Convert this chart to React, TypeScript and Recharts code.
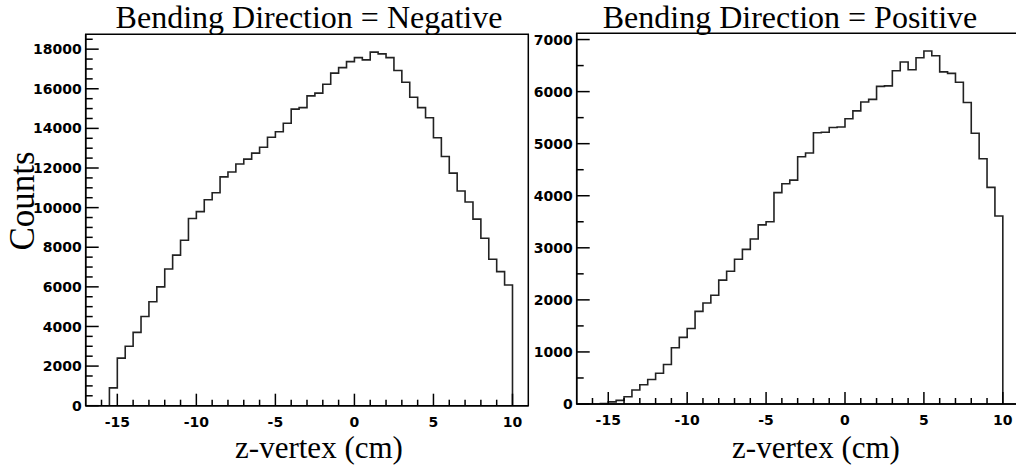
import React from 'react';
import { LineChart, Line, XAxis, YAxis, ReferenceArea, Customized } from 'recharts';

// bin edges (cm), 0.5 cm bins
const BIN_EDGES = [
  -15.5, -15, -14.5, -14, -13.5, -13, -12.5, -12, -11.5, -11, -10.5, -10, -9.5, -9, -8.5, -8, -7.5,
  -7, -6.5, -6, -5.5, -5, -4.5, -4, -3.5, -3, -2.5, -2, -1.5, -1, -0.5, 0, 0.5, 1, 1.5, 2, 2.5, 3,
  3.5, 4, 4.5, 5, 5.5, 6, 6.5, 7, 7.5, 8, 8.5, 9, 9.5, 10,
];

const NEGATIVE_COUNTS = [
  900, 2400, 3000, 3700, 4500, 5250, 6000, 6900, 7600, 8350, 9450, 9800, 10400, 10750, 11550, 11800,
  12200, 12450, 12750, 13050, 13550, 13830, 14260, 14970, 15050, 15640, 15780, 16230, 16790, 17070,
  17370, 17570, 17460, 17850, 17760, 17570, 16920, 16330, 15570, 15050, 14540, 13530, 12580, 11740,
  10840, 10280, 9420, 8450, 7390, 6770, 6090,
];

const POSITIVE_COUNTS = [
  10, 40, 70, 140, 270, 370, 470, 590, 760, 1080, 1280, 1450, 1780, 1940, 2090, 2380, 2550, 2780,
  2970, 3170, 3440, 3500, 4060, 4230, 4300, 4750, 4820, 5210, 5220, 5310, 5320, 5480, 5630, 5800,
  5850, 6100, 6110, 6400, 6570, 6420, 6650, 6780, 6690, 6380, 6350, 6180, 5790, 5200, 4710, 4160,
  3610,
];

const X_TICKS = [-16, -15, -14, -13, -12, -11, -10, -9, -8, -7, -6, -5, -4, -3, -2, -1, 0, 1, 2, 3, 4, 5, 6, 7, 8, 9, 10];
const X_LABELS = [-15, -10, -5, 0, 5, 10];

const NEG_Y_TICKS = [
  0, 500, 1000, 1500, 2000, 2500, 3000, 3500, 4000, 4500, 5000, 5500, 6000, 6500, 7000, 7500, 8000,
  8500, 9000, 9500, 10000, 10500, 11000, 11500, 12000, 12500, 13000, 13500, 14000, 14500, 15000,
  15500, 16000, 16500, 17000, 17500, 18000, 18500,
];
const NEG_Y_LABELS = [0, 2000, 4000, 6000, 8000, 10000, 12000, 14000, 16000, 18000];

const POS_Y_TICKS = [0, 500, 1000, 1500, 2000, 2500, 3000, 3500, 4000, 4500, 5000, 5500, 6000, 6500, 7000];
const POS_Y_LABELS = [0, 1000, 2000, 3000, 4000, 5000, 6000, 7000];

const X_TITLE = 'z-vertex (cm)';
const Y_TITLE = 'Counts';

const TICK_FONT = { fontFamily: 'DejaVu Sans', fontWeight: 'bold', fontSize: 14, fill: '#000' } as const;
const SERIF = 'Liberation Serif, Times New Roman, serif';

function buildSteps(counts: number[]) {
  const pts = [{ x: BIN_EDGES[0], y: 0 }];
  counts.forEach((c, i) => pts.push({ x: BIN_EDGES[i], y: c }));
  pts.push({ x: BIN_EDGES[BIN_EDGES.length - 1], y: 0 });
  return pts;
}

interface PanelProps {
  counts: number[];
  title: string;
  yMax: number;
  yTicks: number[];
  yLabels: number[];
  offset: number; // page x of the svg
  width: number;
  plot: { left: number; right: number; top: number; bottom: number };
  titleX: number;
  xTitleX: number;
  showYTitle?: boolean;
}

function Panel({ counts, title, yMax, yTicks, yLabels, offset, width, plot, titleX, xTitleX, showYTitle }: PanelProps) {
  const H = 465;
  const yAxisW = plot.left - offset;
  const xAxisH = 30;
  const pl = plot.left - offset;
  const data = buildSteps(counts);

  const xTick = (p: any) => {
    const major = X_LABELS.includes(p.payload.value);
    return (
      <g>
        <line x1={p.x} x2={p.x} y1={plot.bottom} y2={plot.bottom - (major ? 12 : 6)} stroke="#000" strokeWidth={1.5} />
        {major && (
          <text x={p.x} y={plot.bottom + 21} textAnchor="middle" style={TICK_FONT}>
            {p.payload.value}
          </text>
        )}
      </g>
    );
  };

  const yTick = (p: any) => {
    const major = yLabels.includes(p.payload.value);
    return (
      <g>
        <line x1={pl} x2={pl + (major ? 13 : 7)} y1={p.y} y2={p.y} stroke="#000" strokeWidth={1.5} />
        {major && (
          <text x={pl - 4} y={p.y} dy="0.36em" textAnchor="end" style={TICK_FONT}>
            {p.payload.value}
          </text>
        )}
      </g>
    );
  };

  return (
    <div style={{ position: 'absolute', left: offset, top: 0 }}>
      <LineChart
        width={width}
        height={H}
        data={data}
        margin={{ top: plot.top, left: 0, right: width - (plot.right - offset), bottom: H - plot.bottom - xAxisH }}
      >
        <XAxis
          dataKey="x"
          type="number"
          domain={[-17, 11]}
          ticks={X_TICKS}
          height={xAxisH}
          tickLine={false}
          tickSize={0}
          tick={xTick}
          axisLine={{ stroke: '#000', strokeWidth: 1.5 }}
          interval={0}
        />
        <YAxis
          type="number"
          domain={[0, yMax]}
          ticks={yTicks}
          width={yAxisW}
          tickLine={false}
          tickSize={0}
          tick={yTick}
          axisLine={{ stroke: '#000', strokeWidth: 1.5 }}
          interval={0}
        />
        <ReferenceArea x1={-17} x2={11} y1={0} y2={yMax} fill="none" stroke="#000" strokeWidth={1.5} />
        <Line
          dataKey="y"
          type="stepAfter"
          stroke="#222"
          strokeWidth={1.6}
          dot={false}
          isAnimationActive={false}
        />
        <Customized
          component={() => (
            <g>
              <text x={titleX - offset} y={28} textAnchor="middle" style={{ fontFamily: SERIF, fontSize: 32, fill: '#000' }}>
                {title}
              </text>
              <text x={xTitleX - offset} y={458} textAnchor="middle" style={{ fontFamily: SERIF, fontSize: 31, fill: '#000' }}>
                {X_TITLE}
              </text>
              {showYTitle && (
                <text
                  x={0}
                  y={0}
                  transform={`translate(${34 - offset}, 201) rotate(-90)`}
                  textAnchor="middle"
                  style={{ fontFamily: SERIF, fontSize: 35, fill: '#000' }}
                >
                  {Y_TITLE}
                </text>
              )}
            </g>
          )}
        />
      </LineChart>
    </div>
  );
}

export default function App() {
  return (
    <div style={{ position: 'absolute', left: 0, top: 0, width: 1016, height: 465, overflow: 'hidden', background: '#fff' }}>
      <Panel
        counts={NEGATIVE_COUNTS}
        title="Bending Direction = Negative"
        yMax={18750}
        yTicks={NEG_Y_TICKS}
        yLabels={NEG_Y_LABELS}
        offset={0}
        width={545}
        plot={{ left: 85.7, right: 528.3, top: 34.3, bottom: 405.7 }}
        titleX={309}
        xTitleX={319}
        showYTitle
      />
      <Panel
        counts={POSITIVE_COUNTS}
        title="Bending Direction = Positive"
        yMax={7120}
        yTicks={POS_Y_TICKS}
        yLabels={POS_Y_LABELS}
        offset={530}
        width={500}
        plot={{ left: 576.7, right: 1018.6, top: 33.3, bottom: 404 }}
        titleX={790}
        xTitleX={816}
      />
    </div>
  );
}
